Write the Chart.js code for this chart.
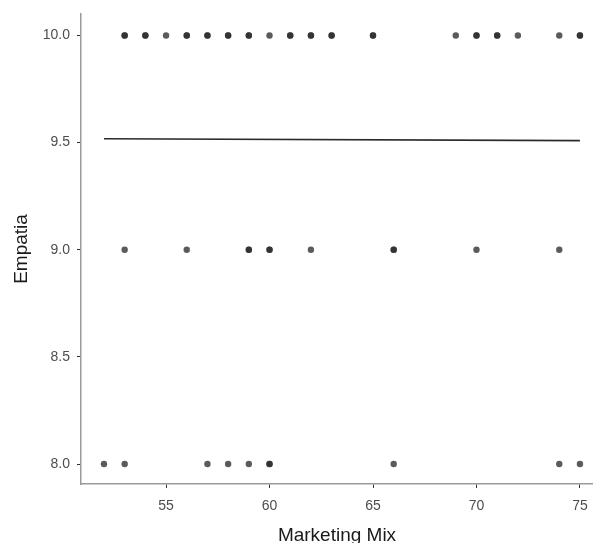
<!DOCTYPE html>
<html>
<head>
<meta charset="utf-8">
<script src="https://cdn.jsdelivr.net/npm/chart.js@4.4.1/dist/chart.umd.min.js"></script>
<style>
  html, body { margin: 0; padding: 0; background: #ffffff; }
  #wrap { width: 593px; height: 543px; }
</style>
</head>
<body>
<div id="wrap"><canvas id="c" width="593" height="543"></canvas></div>
<script>
// Observations (repeated pairs overlap and show darker)
const marketingMix = [
  53, 53, 54, 54, 55, 56, 56, 57, 57, 58, 58, 59, 59, 60, 61, 61, 62, 62, 63, 63,
  65, 65, 69, 70, 70, 71, 71, 72, 74, 75, 75,
  53, 56, 59, 59, 60, 60, 62, 66, 66, 70, 74,
  52, 53, 57, 58, 59, 60, 60, 66, 74, 75
];
const empatia = [
  10, 10, 10, 10, 10, 10, 10, 10, 10, 10, 10, 10, 10, 10, 10, 10, 10, 10, 10, 10,
  10, 10, 10, 10, 10, 10, 10, 10, 10, 10, 10,
  9, 9, 9, 9, 9, 9, 9, 9, 9, 9, 9,
  8, 8, 8, 8, 8, 8, 8, 8, 8, 8
];

// Fitted line end points
const fitX = [52, 75];
const fitY = [9.518, 9.509];

// Axis ticks
const xTicks = [55, 60, 65, 70, 75];
const yTicks = [8.0, 8.5, 9.0, 9.5, 10.0];
const yTickLabels = ['8.0', '8.5', '9.0', '9.5', '10.0'];

const scatterPoints = marketingMix.map((x, i) => ({ x: x, y: empatia[i] }));
const fitPoints = fitX.map((x, i) => ({ x: x, y: fitY[i] }));

const tickFont = { family: 'Liberation Sans, Arial, sans-serif', size: 14 };
const titleFont = { family: 'Liberation Sans, Arial, sans-serif', size: 19, lineHeight: 0.8 };

new Chart(document.getElementById('c'), {
  type: 'scatter',
  data: {
    datasets: [
      {
        label: 'Empatia',
        data: scatterPoints,
        pointRadius: 3.2,
        pointHoverRadius: 3.2,
        borderWidth: 0,
        backgroundColor: 'rgba(39,39,39,0.76)',
        order: 2
      },
      {
        label: 'fit',
        type: 'line',
        data: fitPoints,
        borderColor: '#2b2b2b',
        borderWidth: 1.6,
        pointRadius: 0,
        fill: false,
        order: 1
      }
    ]
  },
  options: {
    responsive: false,
    animation: false,
    devicePixelRatio: 1,
    layout: { autoPadding: false, padding: { top: 14, right: 0, left: 0, bottom: 0 } },
    plugins: {
      legend: { display: false },
      tooltip: { enabled: false }
    },
    scales: {
      x: {
        type: 'linear',
        min: 50.89,
        max: 75.63,
        afterBuildTicks: (axis) => { axis.ticks = xTicks.map(v => ({ value: v })); },
        afterFit: (axis) => {
          axis.height = 59;
          axis.paddingLeft = 0;
          axis.paddingRight = 0;
        },
        grid: { drawOnChartArea: false, drawTicks: true, tickLength: 4, color: '#333333', lineWidth: 1 },
        border: { display: true, color: '#9a9a9a', width: 1.5 },
        ticks: {
          color: '#4d4d4d',
          font: tickFont,
          padding: 10,
          maxRotation: 0,
          autoSkip: false,
          callback: (v) => String(v)
        },
        title: {
          display: true,
          text: 'Marketing Mix',
          color: '#1a1a1a',
          font: titleFont,
          padding: { top: 0, bottom: 0 }
        }
      },
      y: {
        type: 'linear',
        min: 7.907,
        max: 10.1,
        afterBuildTicks: (axis) => { axis.ticks = yTicks.map(v => ({ value: v })); },
        afterFit: (axis) => {
          axis.width = 81;
          axis.paddingTop = 0;
          axis.paddingBottom = 0;
        },
        grid: { drawOnChartArea: false, drawTicks: true, tickLength: 4, color: '#333333', lineWidth: 1 },
        border: { display: true, color: '#9a9a9a', width: 1.5 },
        ticks: {
          color: '#4d4d4d',
          font: tickFont,
          padding: 7,
          autoSkip: false,
          callback: (v) => {
            const i = yTicks.indexOf(v);
            return i >= 0 ? yTickLabels[i] : '';
          }
        },
        title: {
          display: true,
          text: 'Empatia',
          color: '#1a1a1a',
          font: titleFont,
          padding: { top: 14, bottom: 0 }
        }
      }
    }
  }
});
</script>
</body>
</html>
